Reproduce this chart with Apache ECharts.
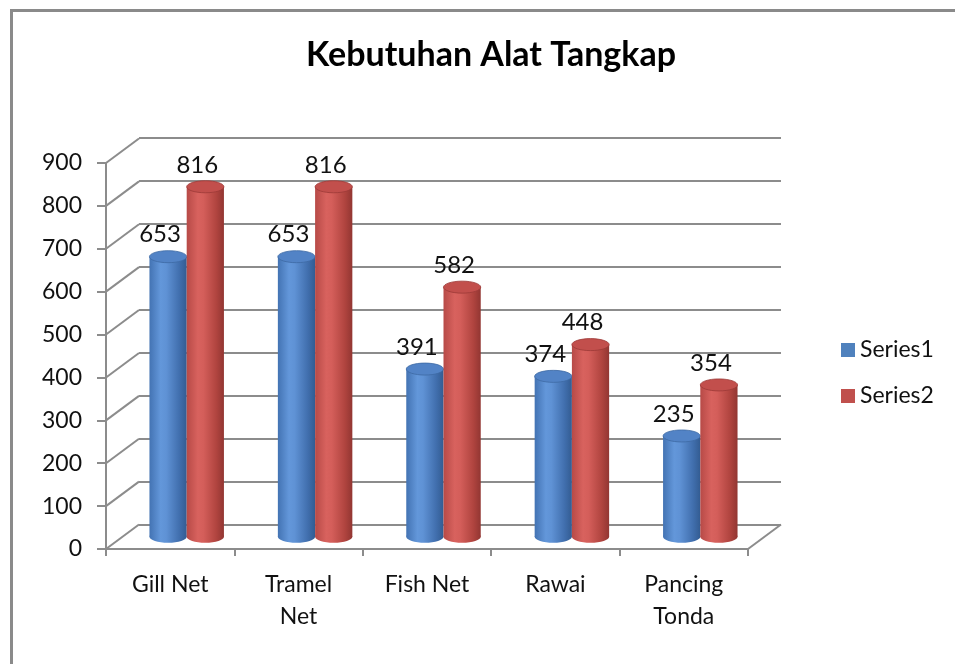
<!DOCTYPE html>
<html>
<head>
<meta charset="utf-8">
<script src="https://cdn.jsdelivr.net/npm/echarts@6/dist/echarts.min.js"></script>
<style>
html,body{margin:0;padding:0;background:#fff;}
#chart{width:955px;height:664px;}
</style>
</head>
<body>
<div id="chart"></div>
<script>
// ---- data ----
const titleText = 'Kebutuhan Alat Tangkap';
const categories = ['Gill Net', 'Tramel\nNet', 'Fish Net', 'Rawai', 'Pancing\nTonda'];
const series1 = [653, 653, 391, 374, 235];
const series2 = [816, 816, 582, 448, 354];
const seriesNames = ['Series1', 'Series2'];
const yTicks = [0, 100, 200, 300, 400, 500, 600, 700, 800, 900];

// ---- style ----
const FONT = 'Lato';
const DX = 33, DY = -24.5;     // depth offset of back wall
const GRID_COLOR = '#8c8c8c';
const palettes = [
  {base: '#4f81bd', stops: ['#4373b3', '#6397da', '#5f92d5', '#416fae', '#335c92'], top: '#5283c6', rim: '#3d69a3'},
  {base: '#c0504d', stops: ['#b74a47', '#d8625e', '#d45e5a', '#b0443f', '#923632'], top: '#c24f4c', rim: '#9c3a37'}
];

const chart = echarts.init(document.getElementById('chart'), null, {renderer: 'canvas'});

function cylRender(sIdx) {
  return function (params, api) {
    const i = api.value(0);
    const v = api.value(1);
    const band = api.size([1, 0])[0];
    const w = band * 0.29;
    const base = api.coord([i, 0]);
    const top = api.coord([i, v]);
    const cx = base[0] + DX / 2 + (sIdx === 0 ? -w / 2 : w / 2);
    const yb = base[1] + DY / 2;
    const yt = top[1] + DY / 2;
    const ry = 6;
    const p = palettes[sIdx];
    const grad = new echarts.graphic.LinearGradient(0, 0, 1, 0, [
      {offset: 0, color: p.stops[0]},
      {offset: 0.3, color: p.stops[1]},
      {offset: 0.45, color: p.stops[2]},
      {offset: 0.8, color: p.stops[3]},
      {offset: 1, color: p.stops[4]}
    ]);
    return {
      type: 'group',
      children: [
        {type: 'ellipse', shape: {cx: cx, cy: yb, rx: w / 2, ry: ry}, style: {fill: grad}},
        {type: 'rect', shape: {x: cx - w / 2, y: yt, width: w, height: yb - yt}, style: {fill: grad}},
        {type: 'ellipse', shape: {cx: cx, cy: yt, rx: w / 2, ry: ry}, style: {fill: p.top, stroke: p.rim, lineWidth: 0.8}},
        {type: 'text', style: {text: String(v), x: cx - 8, y: yt - 22, align: 'center', verticalAlign: 'middle',
          fill: '#111', font: '24px ' + FONT}}
      ]
    };
  };
}

function frameRender(params, api) {
  const v = api.value(0);
  const cs = params.coordSys;
  const y = api.coord([0, v])[1];
  const x0 = cs.x;
  const children = [
    {type: 'line', shape: {x1: x0, y1: y, x2: x0 + DX, y2: y + DY}, style: {stroke: GRID_COLOR, lineWidth: 2}}
  ];
  if (v === 0) {
    const xr = cs.x + cs.width;
    children.push({type: 'line', shape: {x1: xr, y1: y, x2: xr + DX, y2: y + DY}, style: {stroke: GRID_COLOR, lineWidth: 2}});
  }
  return {type: 'group', children: children};
}

const option = {
  backgroundColor: '#fff',
  animation: false,
  title: {
    text: titleText,
    left: 486, top: 33, textAlign: 'center',
    textStyle: {fontFamily: FONT, fontWeight: 'bold', fontSize: 34, color: '#000'}
  },
  graphic: [{
    type: 'rect', left: 9, top: 8, silent: true,
    shape: {width: 1000, height: 700},
    style: {fill: 'none', stroke: '#8a8a8a', lineWidth: 3}
  }],
  legend: {
    data: seriesNames,
    orient: 'vertical',
    left: 836, top: 333,
    icon: 'rect', itemWidth: 14, itemHeight: 14, itemGap: 22,
    textStyle: {fontFamily: FONT, fontSize: 23, color: '#111', lineHeight: 24}
  },
  grid: [
    {left: 106, right: 207, top: 163, bottom: 115},
    {left: 139, right: 174, top: 138, bottom: 139}
  ],
  xAxis: [
    {
      type: 'category', gridIndex: 0, data: categories, boundaryGap: true,
      axisLine: {lineStyle: {color: GRID_COLOR, width: 2}},
      axisTick: {show: true, length: 7, interval: 0, lineStyle: {color: GRID_COLOR, width: 2}},
      axisLabel: {interval: 0, margin: 20, fontFamily: FONT, fontSize: 23, color: '#111', lineHeight: 32}
    },
    {
      type: 'category', gridIndex: 1, data: categories, show: false
    }
  ],
  yAxis: [
    {
      type: 'value', gridIndex: 0, min: 0, max: 900, interval: 100,
      axisLine: {show: true, lineStyle: {color: GRID_COLOR, width: 2}},
      axisTick: {show: true, length: 9, lineStyle: {color: GRID_COLOR, width: 2}},
      axisLabel: {margin: 24, fontFamily: FONT, fontSize: 23, color: '#111'},
      splitLine: {show: false}
    },
    {
      type: 'value', gridIndex: 1, min: 0, max: 900, interval: 100,
      axisLine: {show: false}, axisTick: {show: false}, axisLabel: {show: false},
      splitLine: {show: true, lineStyle: {color: GRID_COLOR, width: 2}}
    }
  ],
  series: [
    {
      type: 'custom', name: 'frame', xAxisIndex: 0, yAxisIndex: 0, silent: true,
      renderItem: frameRender, data: yTicks.map(function (t) { return [t]; }),
      encode: {y: 0}, z: 1
    },
    {
      type: 'custom', name: seriesNames[0], xAxisIndex: 0, yAxisIndex: 0,
      itemStyle: {color: palettes[0].base},
      renderItem: cylRender(0),
      data: series1.map(function (v, i) { return [i, v]; }),
      encode: {x: 0, y: 1}, z: 3
    },
    {
      type: 'custom', name: seriesNames[1], xAxisIndex: 0, yAxisIndex: 0,
      itemStyle: {color: palettes[1].base},
      renderItem: cylRender(1),
      data: series2.map(function (v, i) { return [i, v]; }),
      encode: {x: 0, y: 1}, z: 3
    }
  ]
};
chart.setOption(option);
</script>
</body>
</html>
